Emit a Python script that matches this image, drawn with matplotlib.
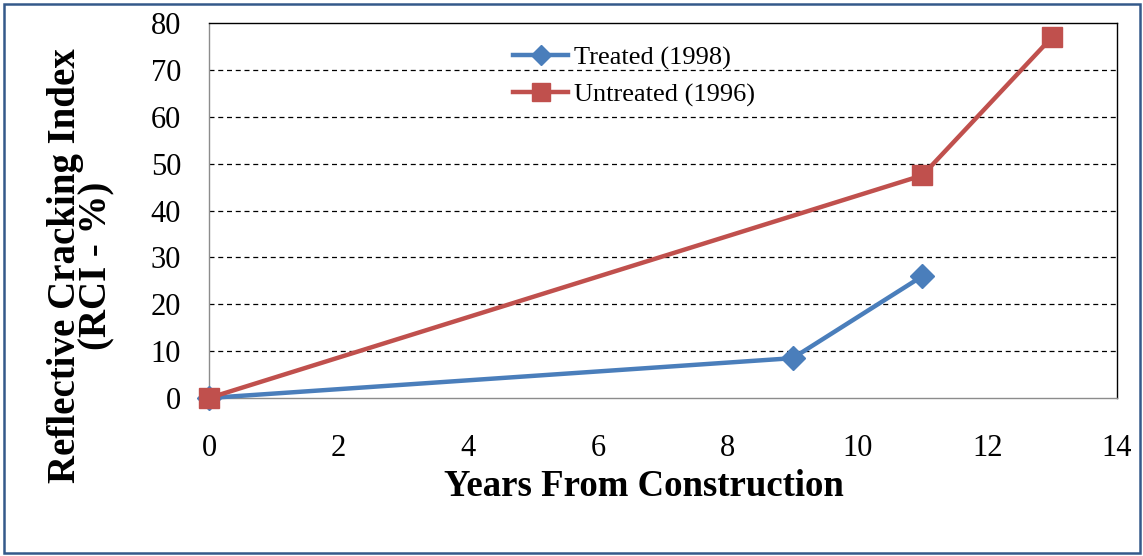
import matplotlib
matplotlib.use("Agg")
import matplotlib.pyplot as plt
from matplotlib.patches import Rectangle

years_treated = [0, 9, 11]
rci_treated = [0, 8.5, 26]
years_untreated = [0, 11, 13]
rci_untreated = [0, 47.5, 77]

xticks = list(range(0, 16, 2))
yticks = list(range(0, 90, 10))

plt.rcParams['font.family'] = ['Liberation Serif', 'DejaVu Serif']

W, H = 1143, 556
fig = plt.figure(figsize=(W / 100, H / 100), dpi=100)

# outer frame like the excel chart border
fig.patches.append(Rectangle((4 / W, 3 / H), 1136 / W, 549 / H, transform=fig.transFigure,
                             fill=False, edgecolor='#34598a', linewidth=1.8))

ax = fig.add_axes([209 / W, 1 - 398 / H, (1117 - 209) / W, (398 - 23) / H])

for y in yticks[1:-1]:
    ax.axhline(y, color='black', linestyle=(0, (4, 3)), linewidth=0.9, zorder=1)

ax.plot(years_treated, rci_treated, color='#4a7ebb', linewidth=3.2, marker='D',
        markersize=12, label='Treated (1998)', zorder=3, clip_on=False)
ax.plot(years_untreated, rci_untreated, color='#c0504d', linewidth=3.2, marker='s',
        markersize=15, label='Untreated (1996)', zorder=4, clip_on=False)

ax.set_xlim(0, 14)
ax.set_ylim(0, 80)
ax.set_xticks(xticks)
ax.set_yticks(yticks)
ax.tick_params(axis='both', length=0, labelsize=22)
ax.tick_params(axis='y', pad=20)
ax.tick_params(axis='x', pad=26)

ax.spines['left'].set_color('#8c8c8c')
ax.spines['bottom'].set_color('#8c8c8c')
ax.spines['top'].set_color('black')
ax.spines['right'].set_color('black')
for s in ax.spines.values():
    s.set_linewidth(1.0)

leg = ax.legend(loc='upper left',
                bbox_to_anchor=((513 - 209) / (1117 - 209), (398 - 46) / (398 - 23)),
                frameon=False, fontsize=19, handlelength=2.1, handletextpad=0.2,
                labelspacing=0.5, borderaxespad=0, borderpad=0, markerscale=0.85)

fig.text(81 / W, 1 - 266 / H, 'Reflective Cracking Index\n(RCI - %)', rotation=90,
         ha='center', va='center', fontsize=28, fontweight='bold', multialignment='center',
         linespacing=0.82)
fig.text(644 / W, 1 - 487 / H, 'Years From Construction', ha='center', va='center',
         fontsize=26.5, fontweight='bold')

fig.savefig('out.png', dpi=100)
